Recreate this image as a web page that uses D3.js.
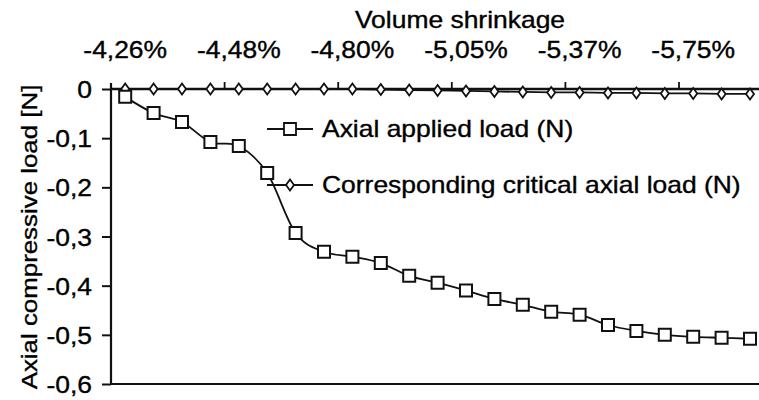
<!DOCTYPE html>
<html>
<head>
<meta charset="utf-8">
<script src="https://cdn.jsdelivr.net/npm/d3@7"></script>
<style>
  html, body { margin: 0; padding: 0; background: #fff; }
  text { font-family: "Liberation Sans", Arial, sans-serif; fill: #000; stroke: #000; stroke-width: 0.35px; }
</style>
</head>
<body>
<svg id="chart" width="759" height="400"></svg>
<script>
// ---- data ----
const categories = d3.range(23); // 23 volume-shrinkage steps
const tickLabels = ["-4,26%", "-4,48%", "-4,80%", "-5,05%", "-5,37%", "-5,75%"];
const tickEvery = 4;
const appliedLoad = [-0.016, -0.049, -0.067, -0.108, -0.116, -0.171, -0.293, -0.331, -0.341, -0.354, -0.380, -0.394,
                     -0.410, -0.427, -0.439, -0.453, -0.459, -0.480, -0.492, -0.500, -0.504, -0.506, -0.508];
const criticalLoad = [0, 0, 0, 0, 0, 0, 0, 0, 0, -0.001, -0.002, -0.003,
                      -0.004, -0.005, -0.006, -0.007, -0.007, -0.008, -0.008, -0.009, -0.009, -0.010, -0.010];
const yTicks = [0, -0.1, -0.2, -0.3, -0.4, -0.5, -0.6];
const seriesNames = ["Axial applied load (N)", "Corresponding critical axial load (N)"];
const xTitle = "Volume shrinkage";
const yTitle = "Axial compressive load [N]";

// ---- layout ----
const SX = 1.15;          // horizontal text stretch seen in the reference
const FS = 23;
const svg = d3.select("#chart");

const x = d3.scaleBand().domain(categories).range([111, 111 + 23 * 28.4]);
const xc = d => x(d) + x.bandwidth() / 2;
const y = d3.scaleLinear().domain([-0.6, 0]).range([384, 89]);
const fmt = v => (v === 0 ? "0" : d3.format(".1f")(v).replace(".", ",").replace("−", "-"));

function stretchedText(g, tx, ty, str, anchor, size, rot) {
  return g.append("text")
    .attr("transform", `translate(${tx},${ty})` + (rot ? ` rotate(${rot})` : "") + ` scale(${SX},1)`)
    .attr("text-anchor", anchor)
    .style("font-size", size + "px")
    .text(str);
}

// bottom plot border line at -0,6
svg.append("line")
  .attr("x1", x.range()[0]).attr("x2", 759)
  .attr("y1", y(-0.6)).attr("y2", y(-0.6))
  .attr("stroke", "#111").attr("stroke-width", 2.2);

// y axis
const yAxis = svg.append("g").attr("transform", `translate(${x.range()[0]},0)`)
  .call(d3.axisLeft(y).tickValues(yTicks).tickSize(9).tickFormat(fmt));
yAxis.select(".domain").attr("stroke", "#111").attr("stroke-width", 2.2)
  .attr("d", `M0,${y(0) - 6}V${y(-0.6)}`);
yAxis.selectAll(".tick line").attr("stroke", "#111").attr("stroke-width", 2);
yAxis.selectAll(".tick text").remove();
yTicks.forEach(v => stretchedText(svg, 92, y(v) + 9, fmt(v), "end", FS));

// y axis title
stretchedText(svg, 37, 237, yTitle, "middle", FS - 0.5, -90);

// top x axis (at y = 0)
const xAxis = svg.append("g").attr("transform", `translate(0,${y(0)})`)
  .call(d3.axisTop(x).tickValues(categories.filter(i => i % tickEvery === 0)).tickSize(0).tickFormat(() => ""));
xAxis.select(".domain").attr("stroke", "#111").attr("stroke-width", 2.5)
  .attr("d", `M${x.range()[0]},0H759`);
// tick marks at band boundaries every 4 categories
xAxis.selectAll(".bmark").data(categories.filter(i => i % tickEvery === 0 && i > 0))
  .enter().append("line").attr("class", "bmark")
  .attr("x1", d => x(d)).attr("x2", d => x(d)).attr("y1", 0).attr("y2", -7)
  .attr("stroke", "#111").attr("stroke-width", 1.8);
// tick labels
categories.filter(i => i % tickEvery === 0).forEach((i, k) => {
  stretchedText(svg, xc(i), 58, tickLabels[k], "middle", FS);
});
// x axis title
stretchedText(svg, 460, 28, xTitle, "middle", FS);

// ---- series ----
const line = d3.line().x((d, i) => xc(i)).y(d => y(d));
const smooth = d3.line().x((d, i) => xc(i)).y(d => y(d)).curve(d3.curveCatmullRom.alpha(0));

svg.append("path").datum(criticalLoad).attr("d", line)
  .attr("fill", "none").attr("stroke", "#111").attr("stroke-width", 1.8);
svg.append("path").datum(appliedLoad).attr("d", smooth)
  .attr("fill", "none").attr("stroke", "#111").attr("stroke-width", 1.8);

const diamond = (cx, cy) => `M${cx},${cy - 5.5}L${cx + 4},${cy}L${cx},${cy + 5.5}L${cx - 4},${cy}Z`;
const square = (cx, cy) => `M${cx - 6},${cy - 6}h12v12h-12Z`;

svg.selectAll(".crit").data(criticalLoad).enter().append("path").attr("class", "crit")
  .attr("d", (d, i) => diamond(xc(i), y(d)))
  .attr("fill", "#fff").attr("stroke", "#111").attr("stroke-width", 1.8);
svg.selectAll(".appl").data(appliedLoad).enter().append("path").attr("class", "appl")
  .attr("d", (d, i) => square(xc(i), y(d)))
  .attr("fill", "#fff").attr("stroke", "#111").attr("stroke-width", 2);

// ---- legend ----
const legY = [129, 185];
const legMarkers = [square, diamond];
seriesNames.forEach((name, k) => {
  svg.append("line").attr("x1", 267).attr("x2", 313).attr("y1", legY[k]).attr("y2", legY[k])
    .attr("stroke", "#111").attr("stroke-width", 2);
  svg.append("path").attr("d", legMarkers[k](290, legY[k]))
    .attr("fill", "#fff").attr("stroke", "#111").attr("stroke-width", 1.8);
  stretchedText(svg, 322, legY[k] + 8, name, "start", FS);
});
</script>
</body>
</html>
